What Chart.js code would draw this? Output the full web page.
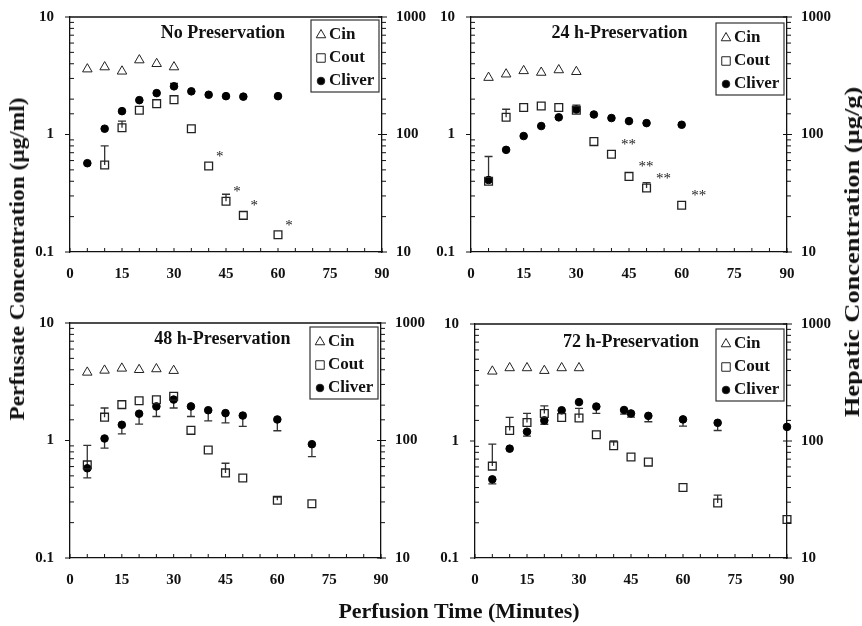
<!DOCTYPE html>
<html>
<head>
<meta charset="utf-8">
<script src="https://cdn.jsdelivr.net/npm/chart.js@4.4.1/dist/chart.umd.min.js"></script>
<style>
  body { margin: 0; background: #fff; }
  #wrap { position: relative; width: 862px; height: 626px; overflow: hidden; background: #fff; }
  canvas { position: absolute; }
  .lbl { position: absolute; font-family: 'Liberation Serif', serif; font-weight: bold; font-size: 22px;
         color: #111; white-space: nowrap; transform: translate(-50%, -50%); }
</style>
</head>
<body>
<div id="wrap">
  <canvas id="c1" width="431" height="300" style="left:0;top:0"></canvas>
  <canvas id="c2" width="431" height="300" style="left:431px;top:0"></canvas>
  <canvas id="c3" width="431" height="300" style="left:0;top:300px"></canvas>
  <canvas id="c4" width="431" height="300" style="left:431px;top:300px"></canvas>
  <div class="lbl" style="left:17px;top:259px;transform:translate(-50%,-50%) rotate(-90deg) scaleX(1.06)">Perfusate Concentration (µg/ml)</div>
  <div class="lbl" style="left:852px;top:252px;transform:translate(-50%,-50%) rotate(-90deg) scaleX(1.2)">Hepatic Concentration (µg/g)</div>
  <div class="lbl" style="left:459px;top:611px">Perfusion Time (Minutes)</div>
</div>
<script>
// sampling times of the inflow concentration (same in all panels)
const tIn = [5, 10, 15, 20, 25, 30];

// No preservation
const cin1 = [3.6, 3.75, 3.45, 4.3, 4.0, 3.75];
const tOut1 = [10, 15, 20, 25, 30, 35, 40, 45, 50, 60];
const cout1 = [0.55, 1.14, 1.61, 1.83, 1.98, 1.12, 0.54, 0.27, 0.205, 0.14];
const coutErr1 = [0.8, 1.3, null, null, null, null, null, 0.31, null, null];
const coutStars1 = ['', '', '', '', '', '', '*', '*', '*', '*'];
const tLiver1 = [5, 10, 15, 20, 25, 30, 35, 40, 45, 50, 60];
const cliver1 = [57, 112, 158, 196, 225, 257, 233, 218, 212, 210, 212];
const cliverErr1 = [null, null, null, null, null, 272, null, null, null, null, null];

// 24 h preservation
const cin2 = [3.05, 3.26, 3.48, 3.37, 3.54, 3.42];
const tOut2 = [5, 10, 15, 20, 25, 30, 35, 40, 45, 50, 60];
const cout2 = [0.4, 1.4, 1.7, 1.75, 1.7, 1.61, 0.87, 0.68, 0.44, 0.35, 0.25];
const coutErr2 = [0.65, 1.64, null, null, null, null, null, null, null, 0.39, null];
const coutStars2 = ['', '', '', '', '', '', '', '**', '**', '**', '**'];
const tLiver2 = [5, 10, 15, 20, 25, 30, 35, 40, 45, 50, 60];
const cliver2 = [41, 74, 97, 118, 140, 163, 148, 138, 130, 125, 121];
const cliverErr2 = [null, null, null, null, null, 178, null, null, null, null, null];

// 48 h preservation
const cin3 = [3.8, 3.95, 4.11, 4.0, 4.06, 3.93];
const tOut3 = [5, 10, 15, 20, 25, 30, 35, 40, 45, 50, 60, 70];
const cout3 = [0.62, 1.58, 2.02, 2.18, 2.22, 2.38, 1.22, 0.83, 0.53, 0.48, 0.31, 0.29];
const coutErr3 = [0.91, 1.89, null, null, null, null, null, null, 0.64, null, 0.33, null];
const coutStars3 = [];
const tLiver3 = [5, 10, 15, 20, 25, 30, 35, 40, 45, 50, 60, 70];
const cliver3 = [58, 104, 136, 169, 195, 223, 195, 181, 171, 163, 151, 93];
const cliverErr3 = [48, 86, 114, 138, 160, 189, 160, 147, 141, 132, 121, 73];

// 72 h preservation
const cin4 = [3.94, 4.21, 4.21, 3.99, 4.21, 4.21];
const tOut4 = [5, 10, 15, 20, 25, 30, 35, 40, 45, 50, 60, 70, 90];
const cout4 = [0.61, 1.23, 1.44, 1.72, 1.59, 1.57, 1.13, 0.91, 0.73, 0.66, 0.4, 0.295, 0.213];
const coutErr4 = [0.94, 1.59, 1.72, 2.0, null, 1.9, null, 1.0, null, null, null, 0.345, null];
const coutStars4 = [];
const tLiver4 = [5, 10, 15, 20, 25, 30, 35, 43, 45, 50, 60, 70, 90];
const cliver4 = [47, 86, 120, 150, 183, 215, 197, 184, 172, 164, 153, 143, 132];
const cliverErr4 = [43, null, 110, 139, null, null, 172, 170, 160, 146, 134, 123, null];

const FONT = "'Liberation Serif', 'Times New Roman', serif";
Chart.defaults.font.family = FONT;
Chart.defaults.font.weight = 'bold';
Chart.defaults.font.size = 15;
Chart.defaults.color = '#111';

function isDecade(v) {
    const l = Math.log10(v);
    return Math.abs(l - Math.round(l)) < 1e-6;
}

function pts(xs, ys) {
    return xs.map((x, i) => ({ x: x, y: ys[i] }));
}

// error bars, asterisks, frame, ticks, title and legend
const extras = {
    id: 'extras',
    beforeDatasetsDraw(chart) {
        const ctx = chart.ctx;
        const p = chart.options.plugins.extras;
        ctx.save();
        ctx.strokeStyle = '#333';
        ctx.lineWidth = 1.3;
        [[1, p.coutErr, 'y'], [2, p.cliverErr, 'y2']].forEach(([di, errs, axis]) => {
            const meta = chart.getDatasetMeta(di);
            errs.forEach((e, i) => {
                if (e == null) return;
                const pt = meta.data[i];
                const y1 = chart.scales[axis].getPixelForValue(e);
                ctx.beginPath();
                ctx.moveTo(pt.x, pt.y);
                ctx.lineTo(pt.x, y1);
                ctx.moveTo(pt.x - 4, y1);
                ctx.lineTo(pt.x + 4, y1);
                ctx.stroke();
            });
        });
        ctx.restore();
    },
    afterDraw(chart) {
        const ctx = chart.ctx;
        const a = chart.chartArea;
        const p = chart.options.plugins.extras;
        ctx.save();
        ctx.strokeStyle = '#111';
        ctx.lineWidth = 1.3;
        // top frame line
        ctx.beginPath();
        ctx.moveTo(a.left, a.top);
        ctx.lineTo(a.right, a.top);
        ctx.stroke();

        // tick marks: decades point outward, minor ticks inward
        ctx.lineWidth = 1;
        ctx.beginPath();
        chart.scales.y.ticks.forEach(t => {
            const y = chart.scales.y.getPixelForValue(t.value);
            if (isDecade(t.value)) { ctx.moveTo(a.left - 5, y); ctx.lineTo(a.left, y); }
            else { ctx.moveTo(a.left, y); ctx.lineTo(a.left + 4, y); }
        });
        chart.scales.y2.ticks.forEach(t => {
            const y = chart.scales.y2.getPixelForValue(t.value);
            if (isDecade(t.value)) { ctx.moveTo(a.right - 4, y); ctx.lineTo(a.right + 5, y); }
            else { ctx.moveTo(a.right, y); ctx.lineTo(a.right + 4, y); }
        });
        chart.scales.x.ticks.forEach(t => {
            const x = chart.scales.x.getPixelForValue(t.value);
            ctx.moveTo(x, a.bottom);
            ctx.lineTo(x, a.bottom - 4);
        });
        ctx.stroke();

        // asterisks next to the Cout points
        const meta = chart.getDatasetMeta(1);
        ctx.fillStyle = '#222';
        ctx.font = '15px ' + FONT;
        ctx.textAlign = 'center';
        ctx.textBaseline = 'alphabetic';
        p.stars.forEach((s, i) => {
            if (!s) return;
            const pt = meta.data[i];
            const dx = s.length > 1 ? 17 : 11;
            ctx.fillText(s, pt.x + dx, pt.y - 5);
        });

        // panel title
        ctx.fillStyle = '#111';
        ctx.font = 'bold 18px ' + FONT;
        ctx.textBaseline = 'middle';
        ctx.fillText(p.title, a.left + a.width * p.titleX, a.top + p.titleY);

        // legend box
        const bw = 68, bh = 72;
        const bx = a.right - 3 - bw, by = a.top + p.legendY;
        ctx.strokeStyle = '#333';
        ctx.lineWidth = 1.2;
        ctx.strokeRect(bx, by, bw, bh);
        const items = [['Cin', 'triangle', 5.5, 'rgba(0,0,0,0)'], ['Cout', 'rect', 6, 'rgba(0,0,0,0)'], ['Cliver', 'circle', 3.8, '#000']];
        items.forEach((it, k) => {
            const y = by + 14 + k * 23;
            ctx.fillStyle = it[3];
            ctx.strokeStyle = '#222';
            ctx.lineWidth = 1;
            Chart.helpers.drawPoint(ctx, { pointStyle: it[1], radius: it[2], borderWidth: 1, rotation: 0 }, bx + 10, y + 1);
            ctx.fillStyle = '#111';
            ctx.font = 'bold 17px ' + FONT;
            ctx.textAlign = 'left';
            ctx.fillText(it[0], bx + 18, y + 1);
        });
        ctx.restore();
    }
};

function makePanel(id, d) {
    const tickFont = { size: 15, weight: 'bold' };
    return new Chart(document.getElementById(id), {
        type: 'scatter',
        data: {
            datasets: [
                { label: 'Cin', data: pts(tIn, d.cin), pointStyle: 'triangle', radius: 5.5, clip: 8,
                  borderColor: '#222', borderWidth: 1, backgroundColor: 'rgba(0,0,0,0)', yAxisID: 'y' },
                { label: 'Cout', data: pts(d.tOut, d.cout), pointStyle: 'rect', radius: 5.5, clip: 8,
                  borderColor: '#222', borderWidth: 1.3, backgroundColor: 'rgba(0,0,0,0)', yAxisID: 'y' },
                { label: 'Cliver', data: pts(d.tLiver, d.cliver), pointStyle: 'circle', radius: 3.8, clip: 8,
                  borderColor: '#000', borderWidth: 1, backgroundColor: '#000', yAxisID: 'y2' }
            ]
        },
        plugins: [extras],
        options: {
            responsive: false,
            animation: false,
            layout: { padding: { top: d.padTop, left: 0, right: 0, bottom: 0 } },
            plugins: {
                legend: { display: false },
                tooltip: { enabled: false },
                extras: { coutErr: d.coutErr, cliverErr: d.cliverErr, stars: d.stars,
                          title: d.title, titleX: d.titleX, titleY: d.titleY, legendY: d.legendY }
            },
            scales: {
                x: {
                    type: 'linear', min: 0, max: 90,
                    grid: { display: false },
                    border: { display: true, color: '#111', width: 1.3 },
                    ticks: { stepSize: 5, autoSkip: false, maxRotation: 0, padding: 5, font: tickFont,
                             callback: v => (v % 15 === 0 ? String(v) : '') },
                    afterFit: s => { s.height = d.bottomH; }
                },
                y: {
                    type: 'logarithmic', position: 'left', min: 0.1, max: 10,
                    grid: { display: false },
                    border: { display: true, color: '#111', width: 1.3 },
                    ticks: { autoSkip: false, padding: 8, font: tickFont,
                             callback: v => (isDecade(v) ? String(v) : '') },
                    afterFit: s => { s.width = d.leftW; }
                },
                y2: {
                    type: 'logarithmic', position: 'right', min: 10, max: 1000,
                    grid: { display: false },
                    border: { display: true, color: '#111', width: 1.3 },
                    ticks: { autoSkip: false, padding: 6, font: tickFont,
                             callback: v => (isDecade(v) ? String(v) : '') },
                    afterFit: s => { s.width = d.rightW; }
                }
            }
        }
    });
}

makePanel('c1', { cin: cin1, tOut: tOut1, cout: cout1, coutErr: coutErr1, stars: coutStars1,
    tLiver: tLiver1, cliver: cliver1, cliverErr: cliverErr1, title: 'No Preservation',
    titleX: 0.49, titleY: 16, legendY: 3, padTop: 17, leftW: 70, rightW: 49, bottomH: 48 });
makePanel('c2', { cin: cin2, tOut: tOut2, cout: cout2, coutErr: coutErr2, stars: coutStars2,
    tLiver: tLiver2, cliver: cliver2, cliverErr: cliverErr2, title: '24 h-Preservation',
    titleX: 0.47, titleY: 16, legendY: 6, padTop: 17, leftW: 40, rightW: 75, bottomH: 48 });
makePanel('c3', { cin: cin3, tOut: tOut3, cout: cout3, coutErr: coutErr3, stars: coutStars3,
    tLiver: tLiver3, cliver: cliver3, cliverErr: cliverErr3, title: '48 h-Preservation',
    titleX: 0.49, titleY: 16, legendY: 4, padTop: 23, leftW: 70, rightW: 50, bottomH: 42 });
makePanel('c4', { cin: cin4, tOut: tOut4, cout: cout4, coutErr: coutErr4, stars: coutStars4,
    tLiver: tLiver4, cliver: cliver4, cliverErr: cliverErr4, title: '72 h-Preservation',
    titleX: 0.5, titleY: 18, legendY: 5, padTop: 24, leftW: 44, rightW: 75, bottomH: 42 });
</script>
</body>
</html>
